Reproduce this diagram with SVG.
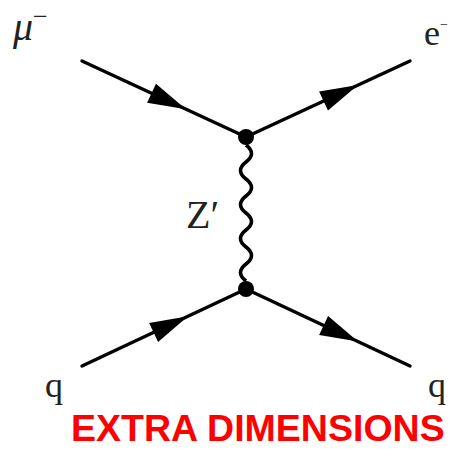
<svg xmlns="http://www.w3.org/2000/svg" width="449" height="449" viewBox="0 0 449 449">
<style>
.line{stroke:#000;stroke-width:3.4;fill:none;stroke-linecap:round}
.wave{stroke:#000;stroke-width:3.6;fill:none}
.lbl{font-family:"Liberation Serif","Times New Roman",serif;fill:#222}
.title{font-family:"Liberation Sans",Arial,sans-serif;font-weight:bold;fill:#ff0000}
</style>
<defs>
<path id="arr" d="M0,0 L-38,-10.5 L-38,10.5 Z" fill="#000"/>
</defs>
<rect width="449" height="449" fill="#fff"/>
<g id="connectors">
<line class="line" x1="82" y1="61" x2="246" y2="137"/>
<line class="line" x1="246" y1="137" x2="410" y2="61"/>
<line class="line" x1="82" y1="366" x2="246" y2="289"/>
<line class="line" x1="246" y1="289" x2="410" y2="366"/>
<path class="wave" d="M246,145 q11,8.5 0,17 q-11,8.5 0,17 q11,8.5 0,17 q-11,8.5 0,17 q11,8.5 0,17 q-11,8.5 0,17 q11,8.5 0,17 q-11,8.5 0,17"/>
<use href="#arr" transform="translate(186,109.2) rotate(24.9)"/>
<use href="#arr" transform="translate(358,85.1) rotate(-24.9)"/>
<use href="#arr" transform="translate(188,316.2) rotate(-25.2)"/>
<use href="#arr" transform="translate(358,341.6) rotate(25.2)"/>
</g>
<g id="vertex-top"><circle cx="246" cy="137" r="8" fill="#000"/></g>
<g id="vertex-bottom"><circle cx="246" cy="289" r="8" fill="#000"/></g>
<g id="label-mu"><text class="lbl" x="13" y="40" font-size="40" font-style="italic">μ<tspan font-size="26" font-style="normal" dy="-15">−</tspan></text></g>
<g id="label-e"><text class="lbl" x="424" y="45" font-size="36">e<tspan font-size="14" dy="-16">−</tspan></text></g>
<g id="label-z"><text class="lbl" x="186" y="228" font-size="40">Z′</text></g>
<g id="label-q1"><text class="lbl" x="45" y="397" font-size="36">q</text></g>
<g id="label-q2"><text class="lbl" x="428" y="397" font-size="36">q</text></g>
<g id="title"><text class="title" x="71" y="441" font-size="37.5">EXTRA DIMENSIONS</text></g>
</svg>
